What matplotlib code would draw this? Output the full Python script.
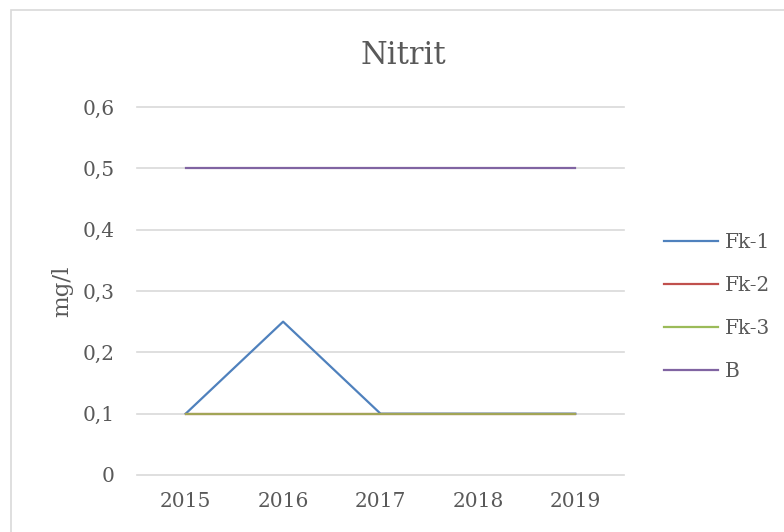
import matplotlib.pyplot as plt
from matplotlib.patches import Rectangle

years = ["2015", "2016", "2017", "2018", "2019"]
fk1 = [0.1, 0.25, 0.1, 0.1, 0.1]
fk2 = [0.1, 0.1, 0.1, 0.1, 0.1]
fk3 = [0.1, 0.1, 0.1, 0.1, 0.1]
b = [0.5, 0.5, 0.5, 0.5, 0.5]
yticks = [0, 0.1, 0.2, 0.3, 0.4, 0.5, 0.6]
ytick_labels = ["0", "0,1", "0,2", "0,3", "0,4", "0,5", "0,6"]

text_col = "#595959"
grid_col = "#D9D9D9"
plt.rcParams["font.family"] = "DejaVu Serif"

fig = plt.figure(figsize=(7.84, 5.32), dpi=100)
fig.patch.set_facecolor("white")
# chart frame
fig.add_artist(Rectangle((11 / 784, -0.05), 1.0, 1 - 10 / 532 + 0.05,
                         transform=fig.transFigure, fill=False,
                         edgecolor=grid_col, linewidth=1.2))

ax = fig.add_axes([137 / 784, 57 / 532, 487 / 784, 368 / 532])
x = list(range(len(years)))
ax.plot(x, fk1, color="#4F81BD", lw=1.6, label="Fk-1")
ax.plot(x, fk2, color="#C0504D", lw=1.6, label="Fk-2")
ax.plot(x, fk3, color="#9BBB59", lw=1.6, alpha=0.8, label="Fk-3")
ax.plot(x, b, color="#8064A2", lw=1.6, label="B")

ax.set_xlim(-0.5, len(years) - 0.5)
ax.set_ylim(0, 0.6)
ax.set_xticks(x)
ax.set_xticklabels(years)
ax.set_yticks(yticks)
ax.set_yticklabels(ytick_labels)
ax.tick_params(axis="both", length=0, labelsize=14.5, colors=text_col)
ax.tick_params(axis="y", pad=16)
ax.tick_params(axis="x", pad=12)
for yv in yticks:
    ax.axhline(yv, color=grid_col, lw=1.2, zorder=0, clip_on=False)
for s in ax.spines.values():
    s.set_visible(False)

ax.set_ylabel("mg/l", fontsize=16.5, color=text_col, labelpad=7)
fig.text(403 / 784, 1 - 55 / 532, "Nitrit", ha="center", va="center",
         fontsize=22, color=text_col)

leg = fig.legend(loc="center left", bbox_to_anchor=(664 / 784, 1 - 307 / 532),
                 frameon=False, fontsize=14.5, labelcolor=text_col,
                 handlelength=2.7, handletextpad=0.3, labelspacing=1.2,
                 borderpad=0, borderaxespad=0)
for h in leg.get_lines():
    h.set_alpha(1)

fig.savefig("out.png", dpi=100)
